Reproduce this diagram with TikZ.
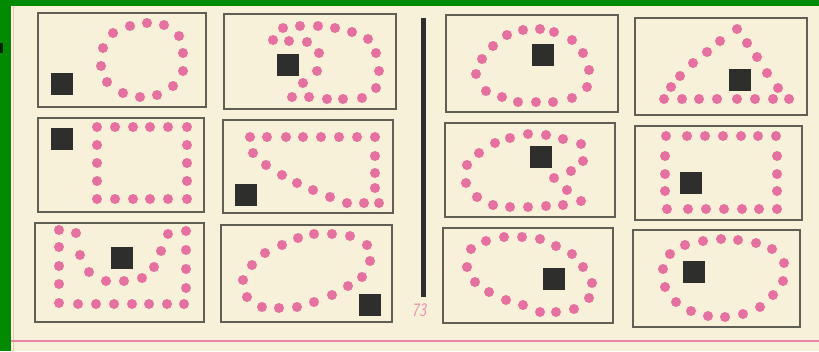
\documentclass[tikz,border=0pt]{standalone}
\usepackage{tikz}
\definecolor{pagegreen}{RGB}{0,138,0}
\definecolor{paper}{RGB}{246,241,216}
\definecolor{dotpink}{RGB}{232,112,160}
\definecolor{ink}{RGB}{46,46,44}
\definecolor{frame}{RGB}{95,95,85}
\newcommand{\blksq}[2]{\fill[blk] (#1-11,#2-11) rectangle ++(22,22);}
\begin{document}
\begin{tikzpicture}[x=1pt,y=-1pt,
  panel/.style={draw=frame, line width=1.3pt},
  dot/.style={fill=dotpink},
  blk/.style={fill=ink}]
\useasboundingbox (0,0) rectangle (819,351);
% page
\fill[pagegreen] (0,0) rectangle (819,351);
\fill[paper] (11,6) rectangle (819,351);
\fill[black!75!pagegreen] (0,43) rectangle (3,53);
\draw[dotpink!45, line width=0.8pt] (13.5,6) -- (13.5,351);
\draw[dotpink!85, line width=1.6pt] (11,341) -- (819,341);
\fill[ink] (420.5,18) rectangle (425.5,297);
\node[text=dotpink!80, font=\sffamily\itshape\fontsize{19}{19}\selectfont, xscale=0.8, inner sep=0pt] (pagenum) at (419,310) {73};
% frames
\draw[panel] (38,13) rectangle (206,107);
\draw[panel] (224,14) rectangle (396,109);
\draw[panel] (446,15) rectangle (618,112);
\draw[panel] (635,18) rectangle (807,115);
\draw[panel] (38,118) rectangle (204,212);
\draw[panel] (223,120) rectangle (393,213);
\draw[panel] (445,123) rectangle (615,217);
\draw[panel] (635,126) rectangle (802,220);
\draw[panel] (35,223) rectangle (204,322);
\draw[panel] (221,225) rectangle (392,322);
\draw[panel] (443,228) rectangle (613,323);
\draw[panel] (633,230) rectangle (800,327);
% row 1
\foreach \x/\y in {113/33,130/26,147/23,164/25,179/36,183/53,183/71,173/86,157/95,140/97,123/93,107/82,101/66,103/48}
  \fill[dot] (\x,\y) circle (5);
\blksq{62}{84}
\foreach \x/\y in {273/40,283/28,300/26,318/26,335/28,352/32,368/39,376/53,379/71,376/88,362/98,343/99,327/99,309/97,292/97,303/83,317/71,319/53,307/42,289/41}
  \fill[dot] (\x,\y) circle (5);
\blksq{288}{65}
\foreach \x/\y in {476/74,482/59,493/46,507/35,523/30,540/29,554/32,572/40,583/53,589/70,587/87,572/98,553/102,536/102,518/102,502/97,486/91}
  \fill[dot] (\x,\y) circle (5);
\blksq{543}{55}
\foreach \x/\y in {664/99,682/99,699/99,717/99,737/99,755/99,773/99,789/99,671/87,680/76,693/63,707/52,720/41,737/29,747/43,757/57,767/73,778/88}
  \fill[dot] (\x,\y) circle (5);
\blksq{740}{80}
% row 2
\foreach \x in {97,115,133,150,168,187}
  {\fill[dot] (\x,127) circle (5); \fill[dot] (\x,199) circle (5);}
\foreach \y in {145,163,181}
  {\fill[dot] (97,\y) circle (5); \fill[dot] (187,\y) circle (5);}
\blksq{62}{139}
\foreach \x/\y in {250/137,267/137,286/137,303/137,321/137,339/137,357/137,375/137,375/156,375/173,375/188,379/203,253/153,266/165,282/175,297/183,313/190,330/197,347/203,364/203}
  \fill[dot] (\x,\y) circle (5);
\blksq{246}{195}
\foreach \x/\y in {467/165,479/153,495/143,510/138,528/134,546/135,563/139,581/144,583/161,571/171,554/178,567/190,581/201,563/205,546/206,528/207,510/207,493/205,477/197,466/183}
  \fill[dot] (\x,\y) circle (5);
\blksq{541}{157}
\foreach \x in {666,687,705,723,741,758,776}
  {\fill[dot] (\x,136) circle (5); \fill[dot] (\x+1,209) circle (5);}
\foreach \y in {156,174,191}
  {\fill[dot] (665,\y) circle (5); \fill[dot] (777,\y) circle (5);}
\blksq{691}{183}
% row 3
\foreach \x/\y in {59/230,59/247,59/266,59/284,59/303,78/304,96/304,114/304,132/304,149/304,167/304,184/304,186/231,186/250,186/269,186/288,76/233,80/255,89/272,106/281,124/281,142/278,154/267,161/251,168/234}
  \fill[dot] (\x,\y) circle (5);
\blksq{122}{258}
\foreach \x/\y in {243/280,247/297,262/307,279/308,297/307,314/302,332/295,348/286,362/277,370/261,367/245,350/236,332/234,314/234,298/238,282/245,265/253,252/265}
  \fill[dot] (\x,\y) circle (5);
\blksq{370}{305}
\foreach \x/\y in {467/267,471/249,486/241,504/237,522/237,540/239,556/246,572/254,583/267,592/283,589/298,574/309,556/312,540/312,523/305,506/300,489/292,475/282}
  \fill[dot] (\x,\y) circle (5);
\blksq{554}{279}
\foreach \x/\y in {663/269,665/287,676/302,691/311,708/316,725/317,743/314,760/307,773/295,783/281,784/263,772/249,756/243,738/240,721/239,703/241,685/245,670/254}
  \fill[dot] (\x,\y) circle (5);
\blksq{694}{272}
\end{tikzpicture}
\end{document}
